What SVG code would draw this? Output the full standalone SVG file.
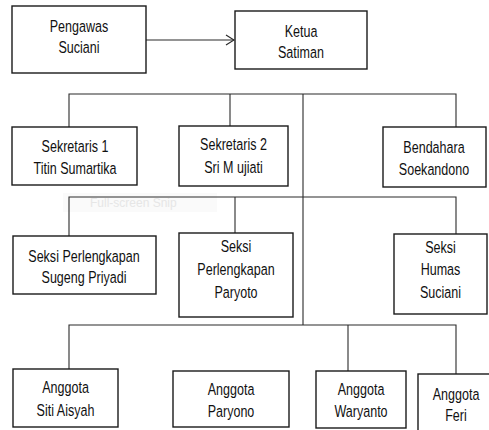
<svg xmlns="http://www.w3.org/2000/svg" width="489" height="430" viewBox="0 0 489 430">
<style>
.box{fill:#fff;stroke:#1a1a1a;stroke-width:1.4}
.ln{fill:none;stroke:#2a2a2a;stroke-width:1.1}
.t{font-family:"Liberation Sans",Arial,sans-serif;font-size:16.5px;fill:#111;text-anchor:middle}
.wm{font-family:"Liberation Sans",Arial,sans-serif;font-size:12px;fill:#e6e6e6}
</style>
<defs>
<marker id="arr" markerWidth="10" markerHeight="12" refX="9" refY="6" orient="auto" markerUnits="userSpaceOnUse">
<path d="M1,1 L9,6 L1,11" fill="none" stroke="#2a2a2a" stroke-width="1.2"/>
</marker>
</defs>
<rect x="63" y="193" width="154" height="19" fill="#fafafa"/>
<text class="wm" x="90" y="207">Full-screen Snip</text>
<g id="connectors">
<line class="ln" x1="146" y1="40" x2="234" y2="40" marker-end="url(#arr)"/>
<polyline class="ln" points="69,127 69,94 456,94 456,127"/>
<line class="ln" x1="230" y1="94" x2="230" y2="126"/>
<line class="ln" x1="303" y1="94" x2="303" y2="325"/>
<polyline class="ln" points="69,236 69,197 456,197 456,234"/>
<line class="ln" x1="235" y1="197" x2="235" y2="233"/>
<polyline class="ln" points="69,369 69,325 456,325 456,374"/>
<line class="ln" x1="348" y1="325" x2="348" y2="371"/>
</g>
<g id="pengawas"><rect class="box" x="12" y="6" width="134" height="67"/><text class="t" transform="translate(79,32) scale(0.76,1)">Pengawas</text><text class="t" transform="translate(79,53) scale(0.76,1)">Suciani</text></g>
<g id="ketua"><rect class="box" x="235" y="11" width="132" height="58"/><text class="t" transform="translate(301,37) scale(0.76,1)">Ketua</text><text class="t" transform="translate(301,58) scale(0.76,1)">Satiman</text></g>
<g id="sekretaris1"><rect class="box" x="12" y="127" width="125" height="58"/><text class="t" transform="translate(75,152) scale(0.76,1)">Sekretaris 1</text><text class="t" transform="translate(75,174) scale(0.76,1)">Titin Sumartika</text></g>
<g id="sekretaris2"><rect class="box" x="179" y="126" width="109" height="60"/><text class="t" transform="translate(233.5,150) scale(0.76,1)">Sekretaris 2</text><text class="t" transform="translate(233.5,173) scale(0.76,1)">Sri M ujiati</text></g>
<g id="bendahara"><rect class="box" x="383" y="127" width="103" height="60"/><text class="t" transform="translate(434,153) scale(0.76,1)">Bendahara</text><text class="t" transform="translate(434,175) scale(0.76,1)">Soekandono</text></g>
<g id="seksi-sugeng"><rect class="box" x="13" y="236" width="143" height="58"/><text class="t" transform="translate(84,262) scale(0.76,1)">Seksi Perlengkapan</text><text class="t" transform="translate(84,283) scale(0.76,1)">Sugeng Priyadi</text></g>
<g id="seksi-paryoto"><rect class="box" x="179" y="233" width="114" height="84"/><text class="t" transform="translate(236,252) scale(0.76,1)">Seksi</text><text class="t" transform="translate(236,275) scale(0.76,1)">Perlengkapan</text><text class="t" transform="translate(236,298) scale(0.76,1)">Paryoto</text></g>
<g id="seksi-humas"><rect class="box" x="394" y="234" width="93" height="80"/><text class="t" transform="translate(440.5,253) scale(0.76,1)">Seksi</text><text class="t" transform="translate(440.5,275) scale(0.76,1)">Humas</text><text class="t" transform="translate(440.5,298) scale(0.76,1)">Suciani</text></g>
<g id="anggota-siti"><rect class="box" x="13" y="369" width="105" height="58"/><text class="t" transform="translate(65.5,393) scale(0.76,1)">Anggota</text><text class="t" transform="translate(65.5,416) scale(0.76,1)">Siti Aisyah</text></g>
<g id="anggota-paryono"><rect class="box" x="173" y="371" width="116" height="56"/><text class="t" transform="translate(231,395) scale(0.76,1)">Anggota</text><text class="t" transform="translate(231,417) scale(0.76,1)">Paryono</text></g>
<g id="anggota-waryanto"><rect class="box" x="316" y="371" width="90" height="57"/><text class="t" transform="translate(361,395) scale(0.76,1)">Anggota</text><text class="t" transform="translate(361,417) scale(0.76,1)">Waryanto</text></g>
<g id="anggota-feri"><rect class="box" x="418" y="374" width="76" height="70"/><text class="t" transform="translate(456,400) scale(0.76,1)">Anggota</text><text class="t" transform="translate(456,421) scale(0.76,1)">Feri</text></g>
</svg>
